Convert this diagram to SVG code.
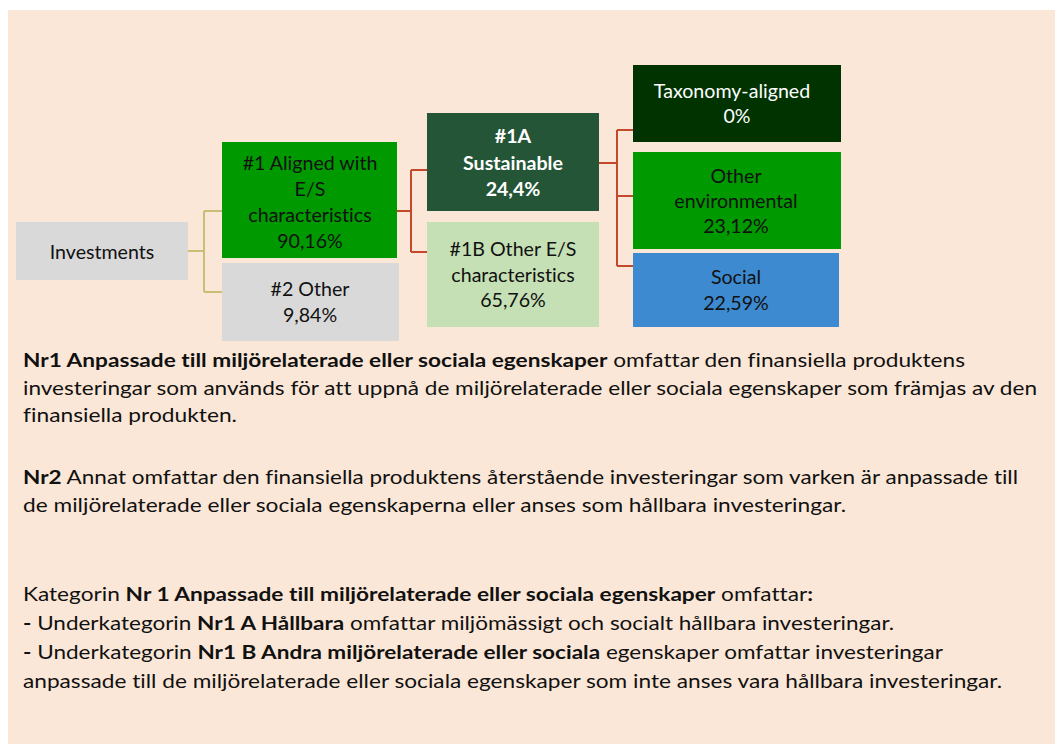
<svg xmlns="http://www.w3.org/2000/svg" width="1055" height="744" viewBox="0 0 1055 744">
<style>
  .bt { font-family: Lato, "Liberation Sans", sans-serif; font-size: 19px; fill: #111; font-variant-ligatures: none; }
  .lbl { font-family: Lato, "Liberation Sans", sans-serif; font-size: 19.6px; fill: #111; text-anchor: middle; font-variant-ligatures: none; }
  .w { fill: #FFFFFF; }
  .b { font-weight: bold; }
  .olive { fill: none; stroke: #C9BF74; stroke-width: 2; }
  .red { fill: none; stroke: #C4492B; stroke-width: 2; }
</style>
<rect x="0" y="0" width="1055" height="744" fill="#FFFFFF"/>
<rect x="8" y="10" width="1047" height="734" fill="#FBE7D7"/>

<g id="connectors">
  <path class="olive" d="M188 251 H204 M204 211 V292 M204 211 H222 M204 292 H222"/>
  <path class="red" d="M397 211 H411 M411 170 V252 M411 170 H427 M411 252 H427"/>
  <path class="red" d="M599 163 H617 M617 130 V266 M617 130 H633 M617 196 H633 M617 266 H633"/>
</g>

<g id="investments">
  <rect x="16" y="222" width="172" height="58" fill="#D9D9D9"/>
  <text class="lbl" x="102" y="259">Investments</text>
</g>
<g id="aligned">
  <rect x="222" y="142" width="175" height="116" fill="#009900"/>
  <text class="lbl" x="310" y="170">#1 Aligned with</text>
  <text class="lbl" x="310" y="196">E/S</text>
  <text class="lbl" x="310" y="222">characteristics</text>
  <text class="lbl" x="310" y="248">90,16%</text>
</g>
<g id="other">
  <rect x="222" y="263" width="177" height="78" fill="#D9D9D9"/>
  <text class="lbl" x="310" y="296">#2 Other</text>
  <text class="lbl" x="310" y="322">9,84%</text>
</g>
<g id="sustainable">
  <rect x="427" y="113" width="172" height="98" fill="#245537"/>
  <text class="lbl w b" x="513" y="143">#1A</text>
  <text class="lbl w b" x="513" y="170">Sustainable</text>
  <text class="lbl w b" x="513" y="196">24,4%</text>
</g>
<g id="other-es">
  <rect x="427" y="222" width="172" height="105" fill="#C5E0B4"/>
  <text class="lbl" x="513" y="256">#1B Other E/S</text>
  <text class="lbl" x="513" y="282">characteristics</text>
  <text class="lbl" x="513" y="307">65,76%</text>
</g>
<g id="taxonomy">
  <rect x="633" y="65" width="208" height="77" fill="#003300"/>
  <text class="lbl w" x="732" y="98">Taxonomy-aligned</text>
  <text class="lbl w" x="737" y="123">0%</text>
</g>
<g id="other-env">
  <rect x="633" y="152" width="208" height="97" fill="#009900"/>
  <text class="lbl" x="736" y="183">Other</text>
  <text class="lbl" x="736" y="208">environmental</text>
  <text class="lbl" x="736" y="233">23,12%</text>
</g>
<g id="social">
  <rect x="633" y="253" width="206" height="74" fill="#3D8AD0"/>
  <text class="lbl" x="736" y="284">Social</text>
  <text class="lbl" x="736" y="310">22,59%</text>
</g>

<g id="legend">
  <text class="bt" x="23" y="367" textLength="942" lengthAdjust="spacingAndGlyphs"><tspan class="b">Nr1 Anpassade till miljörelaterade eller sociala egenskaper</tspan> omfattar den finansiella produktens</text>
  <text class="bt" x="23" y="394.5" textLength="1014" lengthAdjust="spacingAndGlyphs">investeringar som används för att uppnå de miljörelaterade eller sociala egenskaper som främjas av den</text>
  <text class="bt" x="23" y="422" textLength="214" lengthAdjust="spacingAndGlyphs">finansiella produkten.</text>

  <text class="bt" x="23" y="484" textLength="995" lengthAdjust="spacingAndGlyphs"><tspan class="b">Nr2</tspan> Annat omfattar den finansiella produktens återstående investeringar som varken är anpassade till</text>
  <text class="bt" x="23" y="511.5" textLength="823" lengthAdjust="spacingAndGlyphs">de miljörelaterade eller sociala egenskaperna eller anses som hållbara investeringar.</text>

  <text class="bt" x="23" y="601" textLength="790" lengthAdjust="spacingAndGlyphs">Kategorin <tspan class="b">Nr 1 Anpassade till miljörelaterade eller sociala egenskaper</tspan> omfattar<tspan class="b">:</tspan></text>
  <text class="bt" x="23" y="630" textLength="871" lengthAdjust="spacingAndGlyphs"><tspan class="b">-</tspan> Underkategorin <tspan class="b">Nr1 A Hållbara</tspan> omfattar miljömässigt och socialt hållbara investeringar.</text>
  <text class="bt" x="23" y="659" textLength="920" lengthAdjust="spacingAndGlyphs"><tspan class="b">-</tspan> Underkategorin <tspan class="b">Nr1 B Andra miljörelaterade eller sociala</tspan> egenskaper omfattar investeringar</text>
  <text class="bt" x="23" y="688" textLength="979" lengthAdjust="spacingAndGlyphs">anpassade till de miljörelaterade eller sociala egenskaper som inte anses vara hållbara investeringar.</text>
</g>
</svg>
